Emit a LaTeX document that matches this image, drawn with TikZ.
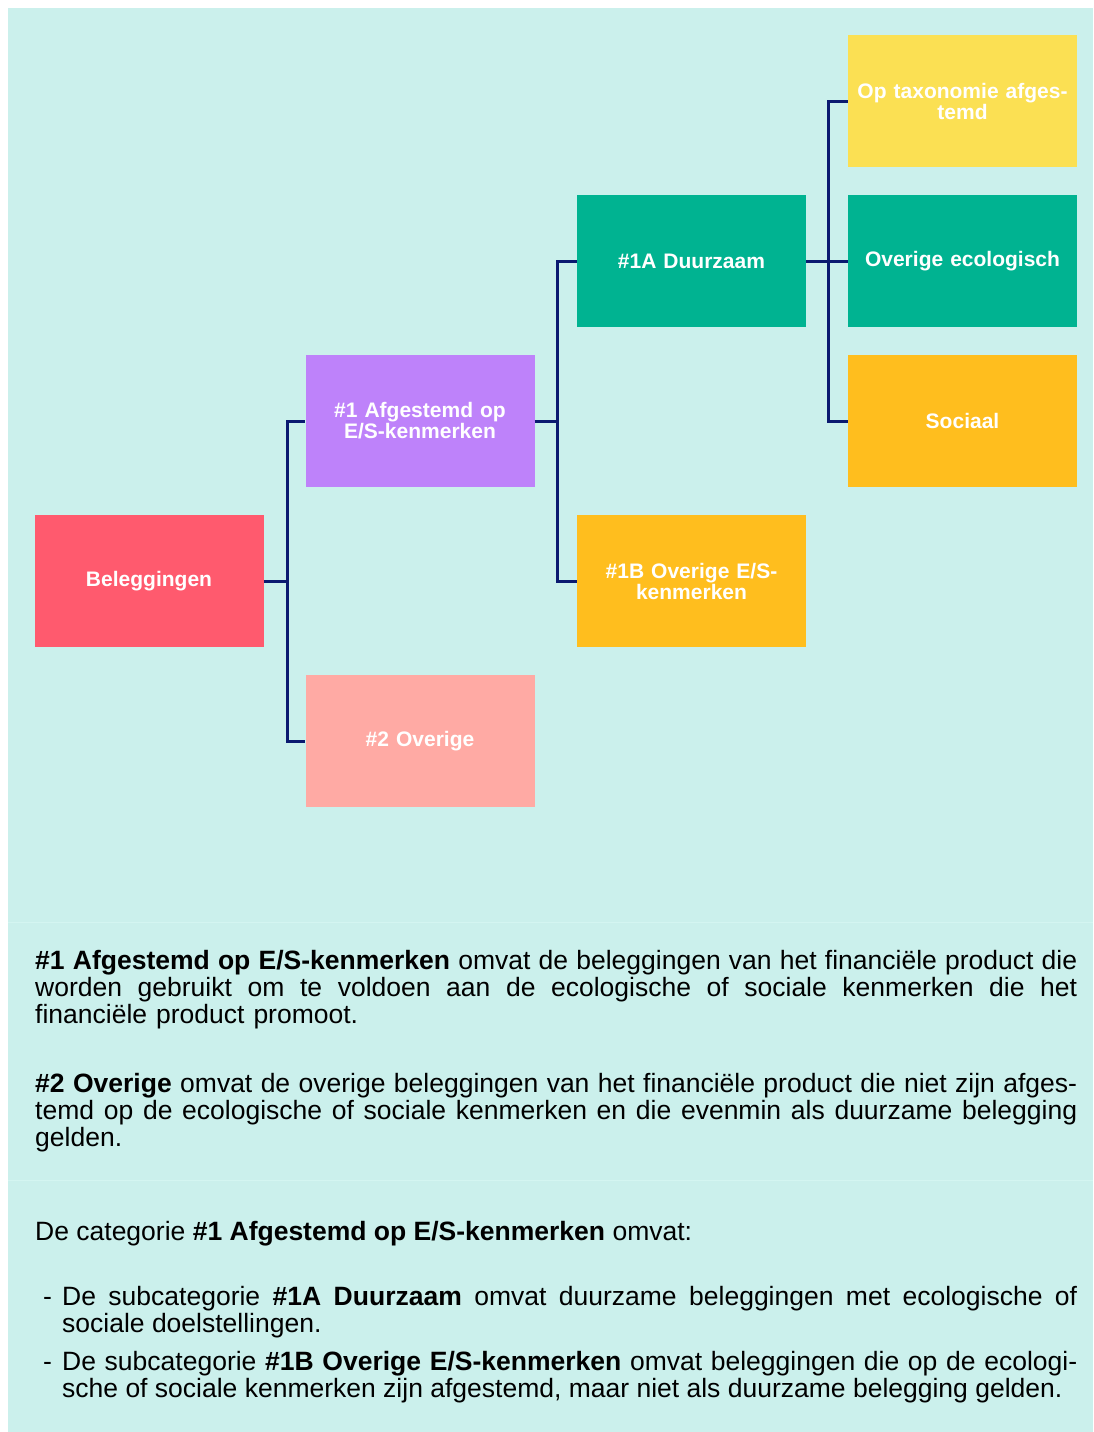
\documentclass[tikz,border=0pt]{standalone}
\usepackage{fontspec}
\setmainfont{Liberation Sans}
\definecolor{panel}{HTML}{CBF0EC}
\definecolor{faint}{HTML}{D4F5F1}
\definecolor{cred}{HTML}{FF5A6E}
\definecolor{cpurple}{HTML}{BE82FA}
\definecolor{csalmon}{HTML}{FFAAA4}
\definecolor{cgreen}{HTML}{00B391}
\definecolor{corange}{HTML}{FFBE1E}
\definecolor{cyellow}{HTML}{FBE053}
\definecolor{navy}{HTML}{0A1A70}
\tikzset{
  box/.style={rectangle, minimum width=229pt, minimum height=132pt, inner sep=0pt,
    text width=222pt, align=center, text=white,
    font=\bfseries\fontsize{21}{21}\selectfont},
  conn/.style={draw=navy, line width=3pt, line join=miter},
  body/.style={inner sep=0pt, anchor=base west, text width=#1, align=justify,
    font=\fontsize{26.5}{27}\selectfont},
}
\begin{document}
\begin{tikzpicture}[x=1pt,y=-1pt]
\useasboundingbox (0,0) rectangle (1093,1432);
\fill[panel] (8,8) rectangle (1093,1432);
\draw[faint, line width=1pt] (8,922) -- (1093,922);
\draw[faint, line width=1pt] (8,1180) -- (1093,1180);

\node[box, fill=cred]    (bel) at (149,581)   {Beleggingen};
\node[box, fill=cpurple] (af)  at (420,421)   {\raisebox{1.5pt}{\parbox{222pt}{\centering\#1 Afgestemd op\\E/S-kenmerken}}};
\node[box, fill=csalmon] (ov)  at (420,741)   {\#2 Overige};
\node[box, fill=cgreen]  (dz)  at (691.5,261) {\#1A Duurzaam};
\node[box, fill=corange] (ob)  at (691.5,581) {\raisebox{1.5pt}{\parbox{222pt}{\centering\#1B Overige E/S-\\kenmerken}}};
\node[box, fill=cyellow] (tax) at (962.5,101) {\raisebox{2pt}{\parbox{222pt}{\centering Op taxonomie afges-\\temd}}};
\node[box, fill=cgreen]  (eco) at (962.5,261) {Overige ecologisch};
\node[box, fill=corange] (soc) at (962.5,421) {Sociaal};

\coordinate (j1) at (287,581);
\coordinate (j2) at (557,421);
\coordinate (j3) at (828,261);
\draw[conn] (bel.east) -- (j1);
\draw[conn] (j1) |- (af.west);
\draw[conn] (j1) |- (ov.west);
\draw[conn] (af.east) -- (j2);
\draw[conn] (j2) |- (dz.west);
\draw[conn] (j2) |- (ob.west);
\draw[conn] (dz.east) -- (j3);
\draw[conn] (j3) |- (tax.west);
\draw[conn] (j3) -- (eco.west);
\draw[conn] (j3) |- (soc.west);

\node[body=1042pt] (p1) at (35,969) {\textbf{\#1 Afgestemd op E/S-kenmerken} omvat de beleggingen van het financiële product die\linebreak worden gebruikt om te voldoen aan de ecologische of sociale kenmerken die het\linebreak {\spaceskip=9pt financiële product promoot.}};
\node[body=1042pt] (p2) at (35,1092) {\textbf{\#2 Overige} omvat de overige beleggingen van het financiële product die niet zijn afges-\linebreak temd op de ecologische of sociale kenmerken en die evenmin als duurzame belegging\linebreak gelden.};
\node[body=1042pt] (p3) at (35,1240) {De categorie \textbf{\#1 Afgestemd op E/S-kenmerken} omvat:};
\node[body=20pt] (d1) at (43,1305) {-};
\node[body=1015pt] (b1) at (62,1305) {De subcategorie \textbf{\#1A Duurzaam} omvat duurzame beleggingen met ecologische of\linebreak sociale doelstellingen.};
\node[body=20pt] (d2) at (43,1370) {-};
\node[body=1015pt] (b2) at (62,1370) {De subcategorie \textbf{\#1B Overige E/S-kenmerken} omvat beleggingen die op de ecologi-\linebreak sche of sociale kenmerken zijn afgestemd, maar niet als duurzame belegging gelden.};
\end{tikzpicture}
\end{document}
